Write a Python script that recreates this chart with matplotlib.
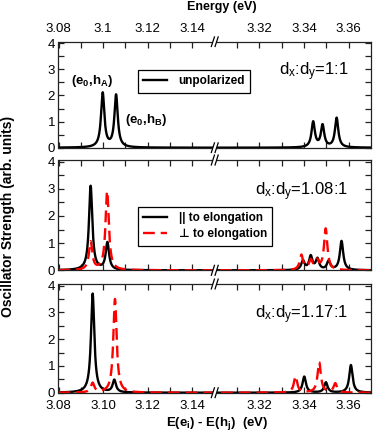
import numpy as np
import matplotlib
matplotlib.use("Agg")
import matplotlib.pyplot as plt
from matplotlib.ticker import FixedLocator, NullFormatter
from matplotlib.lines import Line2D

plt.rcParams['font.family'] = ['Liberation Sans', 'DejaVu Sans']
plt.rcParams['mathtext.fontset'] = 'custom'
plt.rcParams['mathtext.rm'] = 'Liberation Sans'
plt.rcParams['mathtext.it'] = 'Liberation Sans:italic'
plt.rcParams['mathtext.bf'] = 'Liberation Sans:bold'

# ---------------- data (peak positions in eV, peak heights in arb. units) -------------
panel_ratios = ["1:1", "1.08:1", "1.17:1"]

p1_unpol_pos = [3.0998, 3.1058, 3.3441, 3.3483, 3.3546]
p1_unpol_h   = [2.08, 2.00, 0.97, 0.84, 1.13]

p2_par_pos  = [3.0944, 3.1019, 3.3395, 3.3430, 3.3460, 3.3510, 3.3568]
p2_par_h    = [3.10, 1.00, 0.34, 0.50, 0.40, 0.32, 1.07]
p2_perp_pos = [3.0944, 3.1018, 3.3388, 3.3430, 3.3458, 3.3497]
p2_perp_h   = [1.03, 2.90, 0.55, 0.34, 0.32, 1.52]

p3_par_pos  = [3.0953, 3.1050, 3.3401, 3.3498, 3.3610]
p3_par_h    = [3.70, 0.46, 0.60, 0.38, 1.03]
p3_perp_pos = [3.0953, 3.1053, 3.3362, 3.3468, 3.3540]
p3_perp_h   = [0.35, 3.50, 0.61, 1.13, 0.34]

hwhm = 0.0009  # Lorentzian half width used for line broadening

x_ticks_major = [3.08, 3.10, 3.12, 3.14, 3.32, 3.34, 3.36]
x_top_labels = ["3.08", "3.1", "3.12", "3.14", "3.32", "3.34", "3.36"]
x_bot_labels = ["3.08", "3.10", "3.12", "3.14", "3.32", "3.34", "3.36"]
x_ticks_minor = [3.09, 3.11, 3.13, 3.31, 3.33, 3.35]

# ---------------- broken-axis scale ----------------
BRK_LO, BRK_HI = 3.15, 3.30


def fwd(x):
    x = np.asarray(x, dtype=float)
    return np.where(x <= BRK_LO, x, np.where(x >= BRK_HI, x - (BRK_HI - BRK_LO), BRK_LO))


def inv(y):
    y = np.asarray(y, dtype=float)
    return np.where(y <= BRK_LO, y, y + (BRK_HI - BRK_LO))


xgrid = np.concatenate([np.linspace(3.08, BRK_LO, 1400), np.linspace(BRK_HI, 3.37, 1400)])


def spectrum(pos, h):
    y = np.zeros_like(xgrid)
    for p, a in zip(pos, h):
        y += a / (1.0 + ((xgrid - p) / hwhm) ** 2)
    return y


fig = plt.figure(figsize=(3.74, 4.36), dpi=100)
W, H = 374.0, 436.0
left, right = 58.5, 371.0
tops = [41.7, 160.0, 284.0]
bots = [147.7, 270.3, 392.7]
axes = []
for t, b in zip(tops, bots):
    ax = fig.add_axes([left / W, 1 - b / H, (right - left) / W, (b - t) / H])
    axes.append(ax)

red = '#ff0000'
lw = 1.7
dash = (5, 2.5)
for i, ax in enumerate(axes):
    ax.set_xscale('function', functions=(fwd, inv))
    ax.set_xlim(3.08, 3.37)
    ax.set_ylim(0, 4.06)
    if i == 0:
        ax.plot(xgrid, spectrum(p1_unpol_pos, p1_unpol_h), color='black', lw=lw, label='unpolarized')
    elif i == 1:
        ax.plot(xgrid, spectrum(p2_par_pos, p2_par_h), color='black', lw=lw)
        ax.plot(xgrid, spectrum(p2_perp_pos, p2_perp_h), color=red, lw=lw, dashes=dash)
    else:
        ax.plot(xgrid, spectrum(p3_par_pos, p3_par_h), color='black', lw=lw)
        ax.plot(xgrid, spectrum(p3_perp_pos, p3_perp_h), color=red, lw=lw, dashes=dash)

    ax.xaxis.set_major_locator(FixedLocator(x_ticks_major))
    ax.xaxis.set_minor_locator(FixedLocator(x_ticks_minor))
    ax.xaxis.set_minor_formatter(NullFormatter())
    ax.set_yticks([0, 1, 2, 3, 4])
    ax.set_yticklabels(['0', '1', '2', '3', '4'])
    ax.yaxis.set_minor_locator(FixedLocator([0.5, 1.5, 2.5, 3.5]))
    ax.tick_params(which='both', direction='in', top=True, right=True, length=4.5, width=0.9,
                   labelsize=9.5, colors='#222222', labelcolor='black')
    ax.tick_params(axis='y', pad=2.5)
    ax.tick_params(axis='x', pad=5.0)
    if i == 0:
        ax.set_xticklabels(x_top_labels)
        ax.tick_params(axis='x', labeltop=True, labelbottom=False)
    elif i == 2:
        ax.set_xticklabels(x_bot_labels)
    else:
        ax.set_xticklabels([])
    for s in ax.spines.values():
        s.set_linewidth(0.9)
        s.set_color('#222222')

    ax.text(0.928, 2.9, r"d$_\mathrm{x}$:d$_\mathrm{y}$=" + panel_ratios[i], transform=ax.get_yaxis_transform(),
            ha='right', va='center', fontsize=12)

    # axis-break marks
    for yy in (0.0, 1.0):
        ax.add_patch(plt.Rectangle((0.494, yy - 0.02), 0.012, 0.04, transform=ax.transAxes,
                                   facecolor='white', edgecolor='none', clip_on=False, zorder=5))
        for dx in (-0.006, 0.006):
            ax.add_line(Line2D([0.5 + dx - 0.005, 0.5 + dx + 0.005], [yy - 0.045, yy + 0.045],
                               transform=ax.transAxes, color='black', lw=0.9, clip_on=False, zorder=6))

# labels for panel 1
axes[0].text(3.0951, 2.57, r"(e$_\mathbf{0}$,h$_\mathbf{A}$)", ha='center', va='center',
             fontsize=9.5, fontweight='bold')
axes[0].text(3.1192, 1.05, r"(e$_\mathbf{0}$,h$_\mathbf{B}$)", ha='center', va='center',
             fontsize=9.5, fontweight='bold')

leg_kw = dict(loc='upper left', borderaxespad=0, fancybox=False, edgecolor='black', framealpha=1,
              handlelength=2.0, handletextpad=1.0, borderpad=0.45, prop={'weight': 'bold', 'size': 8.5})
leg1 = axes[0].legend(bbox_to_anchor=(0.254, 0.733), **leg_kw)
leg1.get_frame().set_linewidth(0.9)

h_par = Line2D([], [], color='black', lw=lw)
h_perp = Line2D([], [], color=red, lw=lw, dashes=dash)
leg2 = axes[1].legend([h_par, h_perp], ["|| to elongation", "\u22a5 to elongation"],
                      bbox_to_anchor=(0.254, 0.574), labelspacing=0.35, **leg_kw)
leg2.get_frame().set_linewidth(0.9)

fig.text(222 / W, 1 - 7.0 / H, "Energy (eV)", ha='center', va='center', fontsize=9, fontweight='bold')
fig.text(8 / W, 1 - 216 / H, "Oscillator Strength (arb. units)", ha='center', va='center', rotation=90,
         fontsize=10, fontweight='bold')
fig.text(217 / W, 1 - 423 / H, r"E(e$_\mathbf{i}$) - E(h$_\mathbf{j}$)  (eV)", ha='center', va='center',
         fontsize=9.5, fontweight='bold')

fig.savefig('out.png', dpi=100)
